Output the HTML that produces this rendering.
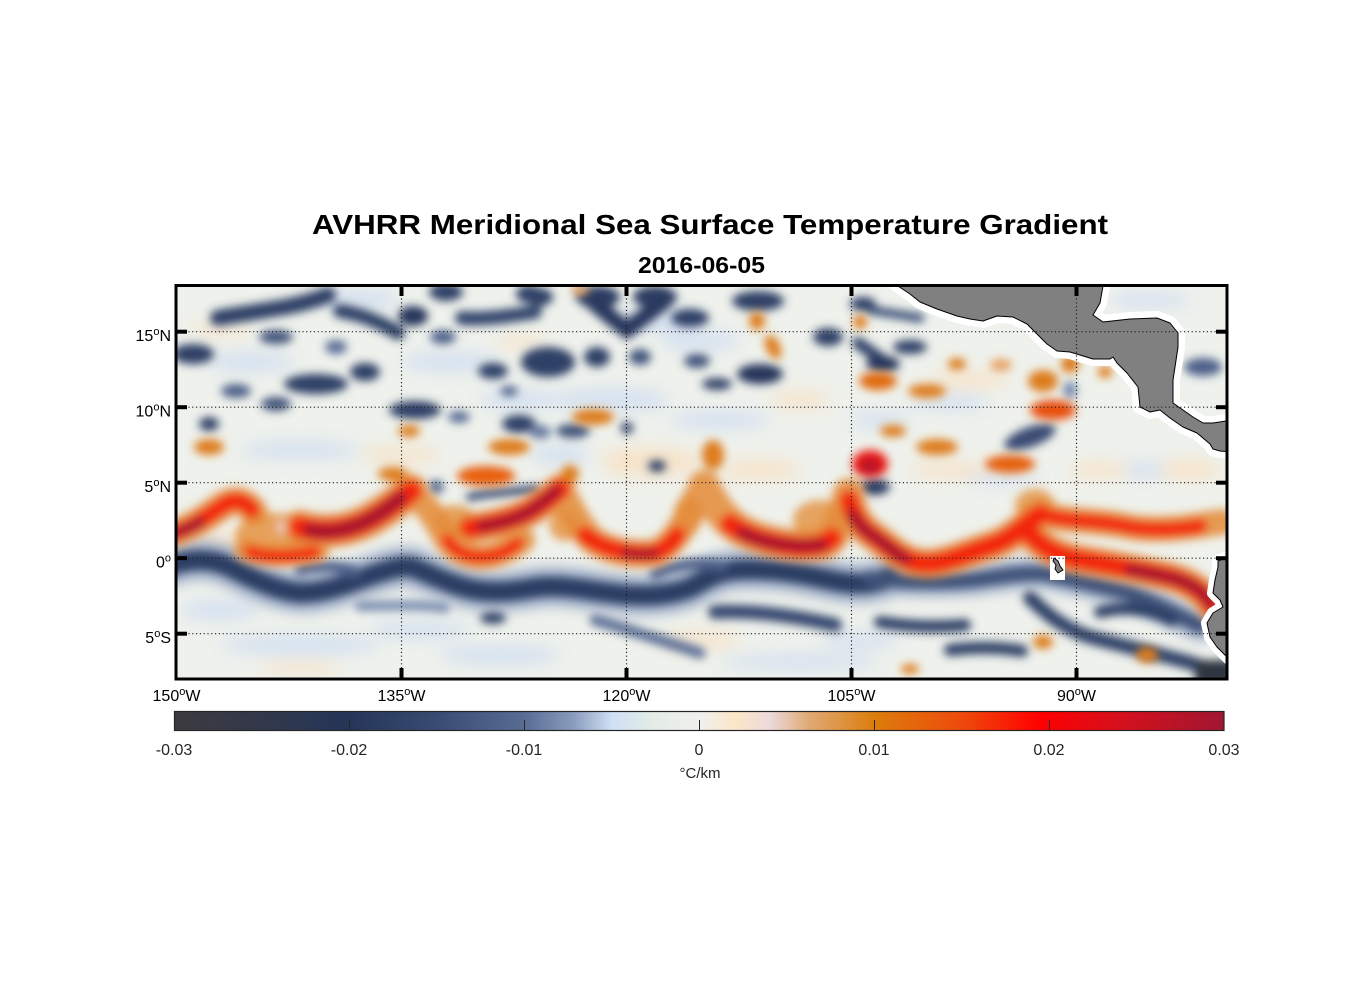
<!DOCTYPE html>
<html><head><meta charset="utf-8"><style>
html,body{margin:0;padding:0;background:#fff;}
svg{display:block;}
text{font-family:"Liberation Sans",Arial,sans-serif;}
</style></head><body>
<svg width="1356" height="1000" viewBox="0 0 1356 1000" xmlns="http://www.w3.org/2000/svg">
<defs>
<clipPath id="mc"><rect x="177" y="287" width="1049" height="391"/></clipPath>
<filter id="b6" filterUnits="userSpaceOnUse" x="0" y="0" width="1356" height="1000"><feGaussianBlur stdDeviation="8"/></filter>
<filter id="b4" filterUnits="userSpaceOnUse" x="0" y="0" width="1356" height="1000"><feGaussianBlur stdDeviation="6"/></filter>
<filter id="b3" filterUnits="userSpaceOnUse" x="0" y="0" width="1356" height="1000"><feGaussianBlur stdDeviation="4.5"/></filter>
<filter id="b2" filterUnits="userSpaceOnUse" x="0" y="0" width="1356" height="1000"><feGaussianBlur stdDeviation="3"/></filter>
<linearGradient id="cb" x1="0" y1="0" x2="1" y2="0">
<stop offset="0" stop-color="#3b3b3f"/>
<stop offset="0.08" stop-color="#33384a"/>
<stop offset="0.167" stop-color="#253659"/>
<stop offset="0.25" stop-color="#3a4b72"/>
<stop offset="0.333" stop-color="#586c94"/>
<stop offset="0.38" stop-color="#8a9cbd"/>
<stop offset="0.417" stop-color="#cfe0f6"/>
<stop offset="0.456" stop-color="#e3ece4"/>
<stop offset="0.5" stop-color="#f0f0ee"/>
<stop offset="0.535" stop-color="#fce6c6"/>
<stop offset="0.567" stop-color="#ecdadc"/>
<stop offset="0.604" stop-color="#e0aa76"/>
<stop offset="0.667" stop-color="#dc7d0c"/>
<stop offset="0.75" stop-color="#ee4a0c"/>
<stop offset="0.825" stop-color="#ff0000"/>
<stop offset="0.9" stop-color="#d6101c"/>
<stop offset="1" stop-color="#a01632"/>
</linearGradient>
</defs>

<!-- Titles -->
<text x="312" y="234" font-size="28" font-weight="bold" fill="#000" textLength="796" lengthAdjust="spacingAndGlyphs">AVHRR Meridional Sea Surface Temperature Gradient</text>
<text x="638" y="273" font-size="23" font-weight="bold" fill="#000" textLength="127" lengthAdjust="spacingAndGlyphs">2016-06-05</text>

<g clip-path="url(#mc)">
<rect x="170" y="280" width="1065" height="405" fill="#eef1ec"/>

<!-- faint texture -->
<g filter="url(#b6)" opacity="0.9">
<g fill="#d3e0f1">
<ellipse cx="250" cy="362" rx="45" ry="10"/>
<ellipse cx="450" cy="362" rx="50" ry="10"/>
<ellipse cx="700" cy="340" rx="40" ry="10"/>
<ellipse cx="610" cy="400" rx="60" ry="12"/>
<ellipse cx="950" cy="402" rx="40" ry="8"/>
<ellipse cx="300" cy="450" rx="60" ry="9"/>
<ellipse cx="720" cy="420" rx="50" ry="9"/>
<ellipse cx="1000" cy="478" rx="40" ry="6"/>
<ellipse cx="300" cy="645" rx="80" ry="10"/>
<ellipse cx="500" cy="655" rx="60" ry="10"/>
<ellipse cx="800" cy="662" rx="80" ry="8"/>
<ellipse cx="860" cy="640" rx="40" ry="8"/>
<ellipse cx="420" cy="630" rx="50" ry="9"/>
<ellipse cx="220" cy="610" rx="40" ry="10"/>
<ellipse cx="1150" cy="470" rx="40" ry="8"/>
<ellipse cx="1150" cy="300" rx="40" ry="8"/>
<ellipse cx="880" cy="420" rx="30" ry="8"/>
<ellipse cx="560" cy="455" rx="30" ry="10"/>
<ellipse cx="660" cy="320" rx="40" ry="12"/>
<ellipse cx="360" cy="300" rx="40" ry="10"/>
<ellipse cx="520" cy="400" rx="40" ry="10"/>
</g>
<g fill="#f8e2c6">
<ellipse cx="220" cy="330" rx="30" ry="6"/>
<ellipse cx="520" cy="342" rx="25" ry="6"/>
<ellipse cx="650" cy="462" rx="50" ry="15"/>
<ellipse cx="760" cy="470" rx="40" ry="10"/>
<ellipse cx="950" cy="470" rx="40" ry="8"/>
<ellipse cx="400" cy="455" rx="40" ry="8"/>
<ellipse cx="700" cy="640" rx="40" ry="8"/>
<ellipse cx="300" cy="668" rx="40" ry="6"/>
<ellipse cx="1100" cy="470" rx="30" ry="8"/>
<ellipse cx="970" cy="380" rx="40" ry="8"/>
<ellipse cx="1160" cy="400" rx="15" ry="10"/>
<ellipse cx="800" cy="400" rx="30" ry="8"/>
<ellipse cx="1190" cy="470" rx="30" ry="10"/>
<ellipse cx="240" cy="545" rx="50" ry="10"/>
</g>
</g>

<!-- blues -->
<g filter="url(#b4)">
<g fill="none" stroke="#8fa1c2" stroke-linecap="round" opacity="0.75">
<path d="M170,566 C190,558 212,558 232,568 C255,580 280,592 302,593 C325,593 350,583 372,575 C390,569 402,565 412,567 C430,574 450,585 475,590 C500,594 520,590 540,587 C565,585 585,590 610,593 C640,597 665,597 690,588 C705,580 715,572 735,570 C765,568 795,572 825,579 C850,585 870,586 890,577" stroke-width="40"/>
<path d="M870,578 C900,582 940,583 975,580 C1005,576 1025,572 1045,574 C1075,580 1100,586 1125,592 C1150,600 1170,612 1200,626" stroke-width="30"/>
</g>
</g>
<g filter="url(#b3)">
<g fill="none" stroke-linecap="round">
<path d="M170,566 C190,558 212,558 232,568 C255,580 280,592 302,593 C325,593 350,583 372,575 C390,569 402,565 412,567 C430,574 450,585 475,590 C500,594 520,590 540,587 C565,585 585,590 610,593 C640,597 665,597 690,588 C705,580 715,572 735,570 C765,568 795,572 825,579 C850,585 870,586 890,577" stroke="#2c3d63" stroke-width="20"/>
<path d="M300,570 C320,565 340,566 355,572" stroke="#4d6089" stroke-width="11"/>
<path d="M655,574 C675,564 700,562 722,566" stroke="#4d6089" stroke-width="11"/>
<path d="M715,612 C750,610 790,615 835,625" stroke="#34466e" stroke-width="14"/>
<path d="M595,620 C625,628 660,640 700,653" stroke="#5a6d94" stroke-width="11"/>
<path d="M360,606 C390,606 420,604 445,608" stroke="#7a8db0" stroke-width="10"/>
<path d="M870,578 C900,582 940,583 975,580 C1005,576 1025,572 1045,574 C1075,580 1100,586 1125,592 C1150,600 1170,612 1200,626" stroke="#405379" stroke-width="15"/>
<path d="M1030,598 C1045,612 1062,628 1090,637 C1120,645 1150,652 1180,660 C1200,665 1215,672 1232,680" stroke="#2f4066" stroke-width="14"/>
<path d="M880,622 C905,626 935,628 965,625" stroke="#2c3d63" stroke-width="12"/>
<path d="M950,650 C975,647 1000,647 1022,651" stroke="#2c3d63" stroke-width="12"/>
<path d="M1100,612 C1120,607 1145,606 1172,620" stroke="#2c3d63" stroke-width="12"/>
<path d="M470,497 C490,492 515,492 536,489" stroke="#34466e" stroke-width="8"/>
<path d="M218,318 C240,314 270,310 290,306 C305,303 315,300 328,295" stroke="#2e3f66" stroke-width="16"/>
<path d="M340,311 C360,314 380,322 398,333" stroke="#2e3f66" stroke-width="14"/>
<path d="M462,318 C480,320 510,316 535,312" stroke="#33456c" stroke-width="14"/>
<path d="M588,298 C600,308 614,320 627,330 C640,320 652,310 664,302" stroke="#26365b" stroke-width="16"/>
<path d="M858,343 L885,362" stroke="#2e3f66" stroke-width="12"/>
<path d="M870,310 L920,318" stroke="#3f5279" stroke-width="9"/>
</g>
<g fill="#2e3f66">
<ellipse cx="598" cy="297" rx="22" ry="11" fill="#2a3a60"/>
<ellipse cx="655" cy="297" rx="22" ry="11" fill="#2a3a60"/>
<ellipse cx="413" cy="316" rx="15" ry="10" fill="#27365a"/>
<ellipse cx="446" cy="292" rx="17" ry="9"/>
<ellipse cx="529" cy="294" rx="13" ry="9"/>
<ellipse cx="193" cy="354" rx="21" ry="10"/>
<ellipse cx="276" cy="337" rx="17" ry="7" fill="#3f5279"/>
<ellipse cx="336" cy="347" rx="11" ry="7" fill="#5a6d94"/>
<ellipse cx="365" cy="372" rx="15" ry="9"/>
<ellipse cx="316" cy="384" rx="32" ry="10"/>
<ellipse cx="236" cy="391" rx="15" ry="7" fill="#4d6089"/>
<ellipse cx="276" cy="404" rx="15" ry="7" fill="#3f5279"/>
<ellipse cx="415" cy="410" rx="26" ry="9"/>
<ellipse cx="209" cy="424" rx="10" ry="7"/>
<ellipse cx="519" cy="424" rx="17" ry="9"/>
<ellipse cx="493" cy="371" rx="15" ry="8"/>
<ellipse cx="443" cy="337" rx="13" ry="7" fill="#4d6089"/>
<ellipse cx="509" cy="391" rx="9" ry="5" fill="#4d6089"/>
<ellipse cx="459" cy="417" rx="11" ry="6" fill="#5a6d94"/>
<ellipse cx="540" cy="297" rx="13" ry="9"/>
<ellipse cx="690" cy="318" rx="19" ry="9"/>
<ellipse cx="758" cy="301" rx="26" ry="10"/>
<ellipse cx="548" cy="362" rx="27" ry="15"/>
<ellipse cx="597" cy="357" rx="13" ry="10"/>
<ellipse cx="640" cy="357" rx="11" ry="8" fill="#3f5279"/>
<ellipse cx="697" cy="361" rx="13" ry="7" fill="#3f5279"/>
<ellipse cx="760" cy="374" rx="23" ry="10" fill="#26365b"/>
<ellipse cx="717" cy="384" rx="15" ry="6"/>
<ellipse cx="828" cy="337" rx="15" ry="9"/>
<ellipse cx="863" cy="304" rx="13" ry="7"/>
<ellipse cx="573" cy="431" rx="17" ry="7" fill="#3f5279"/>
<ellipse cx="540" cy="432" rx="11" ry="7" fill="#6a7da2"/>
<ellipse cx="657" cy="466" rx="9" ry="6"/>
<ellipse cx="627" cy="428" rx="6" ry="6"/>
<ellipse cx="910" cy="347" rx="17" ry="7"/>
<ellipse cx="883" cy="364" rx="17" ry="8" fill="#26365b"/>
<ellipse cx="1030" cy="437" rx="27" ry="10" transform="rotate(-20 1030 437)" fill="#3a4c73"/>
<ellipse cx="1203" cy="367" rx="19" ry="9" fill="#4d6089"/>
<ellipse cx="1070" cy="390" rx="7" ry="9" fill="#7a8db0"/>
<ellipse cx="875" cy="487" rx="15" ry="8" fill="#2a3a60"/>
<ellipse cx="493" cy="618" rx="13" ry="6"/>
<ellipse cx="436" cy="487" rx="8" ry="7" fill="#5a6d94"/>
<rect x="1195" y="660" width="40" height="25" fill="#2e3440"/>
</g>
</g>

<!-- oranges / reds -->
<g filter="url(#b3)">
<g fill="#e38a33" opacity="0.75">
<ellipse cx="275" cy="535" rx="40" ry="22"/>
<ellipse cx="455" cy="522" rx="22" ry="17"/>
<ellipse cx="820" cy="520" rx="27" ry="20"/>
<ellipse cx="1035" cy="505" rx="20" ry="16"/>
<ellipse cx="688" cy="515" rx="14" ry="20"/>
<ellipse cx="565" cy="525" rx="16" ry="16"/>
</g>
<ellipse cx="290" cy="527" rx="11" ry="8" fill="#f4eee6"/>
<g fill="none" stroke-linecap="round">
<g stroke="#e48a38" opacity="0.85">
<path d="M170,534 C188,530 205,518 222,506 C234,498 244,500 254,512" stroke-width="28"/>
<path d="M245,550 C262,557 290,558 318,551" stroke-width="22"/>
<path d="M300,527 C322,534 345,531 365,522 C383,513 398,501 411,491" stroke-width="34"/>
<path d="M411,491 C424,503 436,518 444,535 C452,550 465,557 482,557 C498,556 512,548 522,540" stroke-width="26"/>
<path d="M470,528 C492,525 515,520 532,510 C545,502 553,495 560,489" stroke-width="30"/>
<path d="M560,489 C568,505 578,525 592,540 C608,551 630,556 655,553 C670,547 682,530 692,508 C697,497 701,490 704,486" stroke-width="28"/>
<path d="M704,486 C712,503 722,518 740,530 C760,541 790,548 822,545 C836,538 843,518 849,494" stroke-width="32"/>
<path d="M849,494 C852,512 858,526 872,535 C887,545 900,560 920,563 C942,566 966,553 990,546 C1010,540 1022,527 1040,514" stroke-width="30"/>
<path d="M1040,514 C1068,522 1100,520 1130,527 C1160,532 1190,527 1222,522" stroke-width="26"/>
<path d="M1025,530 C1040,545 1055,556 1082,560 C1112,565 1140,570 1170,577 C1192,583 1206,594 1212,606" stroke-width="30"/>
</g>
<g stroke="#f2280c">
<path d="M170,534 C188,530 205,518 222,506 C234,498 244,500 252,510" stroke-width="16"/>
<path d="M250,552 C265,557 290,558 315,552" stroke-width="12"/>
<path d="M300,527 C322,534 345,531 365,522 C383,513 398,501 411,491" stroke-width="22"/>
<path d="M447,540 C455,552 468,557 482,557 C498,556 510,550 518,543" stroke-width="12"/>
<path d="M470,528 C492,525 515,520 532,510 C545,502 553,495 560,489" stroke-width="20"/>
<path d="M585,535 C600,548 630,556 655,553 C665,549 672,543 677,535" stroke-width="17"/>
<path d="M730,524 C745,535 770,544 800,547 C815,547 825,545 832,538" stroke-width="20"/>
<path d="M849,500 C852,512 858,526 872,535 C887,545 900,560 920,563 C942,566 966,553 990,546 C1010,540 1022,527 1040,514" stroke-width="19"/>
<path d="M1045,515 C1068,522 1100,520 1130,527 C1160,532 1185,528 1200,526" stroke-width="14"/>
<path d="M1030,534 C1040,545 1055,556 1082,560 C1112,565 1140,570 1170,577 C1192,583 1206,594 1212,606" stroke-width="19"/>
</g>
<g stroke="#a8152e">
<path d="M170,534 C182,531 192,527 200,522" stroke-width="11"/>
<path d="M310,530 C325,534 345,531 365,522 C380,514 392,505 400,498" stroke-width="14"/>
<path d="M482,526 C498,524 515,520 530,511 C542,503 550,496 556,491" stroke-width="12"/>
<path d="M625,553 C635,555 645,555 655,553" stroke-width="9"/>
<path d="M742,533 C760,542 790,548 822,545" stroke-width="12"/>
<path d="M853,515 C858,526 865,530 872,535 C885,544 895,553 905,559" stroke-width="12"/>
<path d="M1130,570 C1150,573 1170,577 1185,582 C1198,588 1206,596 1210,603" stroke-width="12"/>
</g>
</g>
<g fill="#dd7d1e">
<ellipse cx="209" cy="447" rx="15" ry="8"/>
<ellipse cx="409" cy="431" rx="11" ry="6"/>
<ellipse cx="393" cy="474" rx="15" ry="7"/>
<ellipse cx="486" cy="476" rx="29" ry="10" fill="#e8600f"/>
<ellipse cx="509" cy="447" rx="21" ry="8"/>
<ellipse cx="593" cy="417" rx="21" ry="8"/>
<ellipse cx="757" cy="321" rx="8" ry="9"/>
<ellipse cx="773" cy="347" rx="7" ry="13" transform="rotate(-25 773 347)"/>
<ellipse cx="878" cy="381" rx="19" ry="9" fill="#e06a0e"/>
<ellipse cx="1043" cy="381" rx="15" ry="11"/>
<ellipse cx="1053" cy="410" rx="23" ry="10" fill="#e8500c"/>
<ellipse cx="1070" cy="364" rx="9" ry="9"/>
<ellipse cx="927" cy="391" rx="19" ry="7"/>
<ellipse cx="937" cy="447" rx="21" ry="8"/>
<ellipse cx="893" cy="431" rx="13" ry="6"/>
<ellipse cx="1010" cy="464" rx="25" ry="9" fill="#e6600f"/>
<ellipse cx="957" cy="364" rx="9" ry="6"/>
<ellipse cx="713" cy="455" rx="11" ry="15"/>
<ellipse cx="570" cy="474" rx="9" ry="9"/>
<ellipse cx="1105" cy="372" rx="7" ry="6"/>
<ellipse cx="1147" cy="655" rx="11" ry="8"/>
<ellipse cx="910" cy="669" rx="9" ry="5"/>
<ellipse cx="1043" cy="642" rx="10" ry="7"/>
<ellipse cx="860" cy="322" rx="7" ry="7"/>
<ellipse cx="580" cy="290" rx="9" ry="5" fill="#e5a060"/>
<ellipse cx="1001" cy="365" rx="11" ry="6" fill="#e5a060"/>
</g>
<ellipse cx="870" cy="464" rx="18" ry="14" fill="#ec1a10"/>
<ellipse cx="870" cy="466" rx="10" ry="8" fill="#b8152a"/>
</g>

<!-- land -->
<g stroke-linejoin="round">
<path d="M892,280 L898,286 L910,294 L920,302 L937,309 L957,316 L970,319 L983,321 L997,316 L1013,317 L1027,324 L1037,334 L1047,344 L1057,351 L1070,352 L1080,355 L1093,359 L1110,359 L1113,357 L1117,363 L1127,373 L1138,387 L1140,407 L1150,412 L1160,410 L1170,418 L1183,427 L1197,433 L1210,444 L1213,449 L1220,451 L1232,452 L1232,420 L1213,423 L1203,423 L1193,417 L1183,410 L1173,403 L1173,380 L1175,367 L1178,347 L1178,333 L1170,323 L1157,318 L1130,319 L1103,322 L1093,315 L1100,303 L1103,286 L1103,280 Z" fill="#ffffff" stroke="#ffffff" stroke-width="14"/>
<path d="M1232,555 L1218,561 L1218,567 L1215,580 L1213,593 L1220,600 L1223,607 L1213,613 L1207,623 L1210,637 L1217,647 L1223,653 L1232,662 Z" fill="#fff" stroke="#fff" stroke-width="12"/>
<rect x="1050" y="556" width="15" height="24" fill="#fff"/>
<path d="M892,280 L898,286 L910,294 L920,302 L937,309 L957,316 L970,319 L983,321 L997,316 L1013,317 L1027,324 L1037,334 L1047,344 L1057,351 L1070,352 L1080,355 L1093,359 L1110,359 L1113,357 L1117,363 L1127,373 L1138,387 L1140,407 L1150,412 L1160,410 L1170,418 L1183,427 L1197,433 L1210,444 L1213,449 L1220,451 L1232,452 L1232,420 L1213,423 L1203,423 L1193,417 L1183,410 L1173,403 L1173,380 L1175,367 L1178,347 L1178,333 L1170,323 L1157,318 L1130,319 L1103,322 L1093,315 L1100,303 L1103,286 L1103,280 Z" fill="#808080" stroke="#000" stroke-width="1"/>
<path d="M1232,555 L1218,561 L1218,567 L1215,580 L1213,593 L1220,600 L1223,607 L1213,613 L1207,623 L1210,637 L1217,647 L1223,653 L1232,662 Z" fill="#808080" stroke="#000" stroke-width="1"/>
<path d="M1054,558 L1058,561 L1060,566 L1063,570 L1058,573 L1055,569 L1056,565 L1053,561 Z" fill="#808080" stroke="#000" stroke-width="1"/>
</g>
</g>

<!-- gridlines -->
<g stroke="#222" stroke-width="1.2" stroke-dasharray="1.2 2.6" fill="none">
<line x1="177" y1="331.7" x2="1226" y2="331.7"/>
<line x1="177" y1="407.2" x2="1226" y2="407.2"/>
<line x1="177" y1="482.7" x2="1226" y2="482.7"/>
<line x1="177" y1="558.2" x2="1226" y2="558.2"/>
<line x1="177" y1="633.7" x2="1226" y2="633.7"/>
<line x1="401.5" y1="287" x2="401.5" y2="678"/>
<line x1="626.5" y1="287" x2="626.5" y2="678"/>
<line x1="851.5" y1="287" x2="851.5" y2="678"/>
<line x1="1076.5" y1="287" x2="1076.5" y2="678"/>
</g>

<!-- frame -->
<rect x="176" y="285.5" width="1051" height="393.5" fill="none" stroke="#000" stroke-width="3"/>
<g stroke="#000" stroke-width="4">
<line x1="175" y1="331.7" x2="187" y2="331.7"/>
<line x1="175" y1="407.2" x2="187" y2="407.2"/>
<line x1="175" y1="482.7" x2="187" y2="482.7"/>
<line x1="175" y1="558.2" x2="187" y2="558.2"/>
<line x1="175" y1="633.7" x2="187" y2="633.7"/>
<line x1="1228" y1="331.7" x2="1216" y2="331.7"/>
<line x1="1228" y1="407.2" x2="1216" y2="407.2"/>
<line x1="1228" y1="482.7" x2="1216" y2="482.7"/>
<line x1="1228" y1="558.2" x2="1216" y2="558.2"/>
<line x1="1228" y1="633.7" x2="1216" y2="633.7"/>
<line x1="401.5" y1="284" x2="401.5" y2="296"/>
<line x1="626.5" y1="284" x2="626.5" y2="296"/>
<line x1="851.5" y1="284" x2="851.5" y2="296"/>
<line x1="1076.5" y1="284" x2="1076.5" y2="296"/>
<line x1="401.5" y1="680" x2="401.5" y2="668"/>
<line x1="626.5" y1="680" x2="626.5" y2="668"/>
<line x1="851.5" y1="680" x2="851.5" y2="668"/>
<line x1="1076.5" y1="680" x2="1076.5" y2="668"/>
</g>

<!-- axis labels -->
<g font-size="16" fill="#000" text-anchor="end">
<text x="171" y="341">15<tspan font-size="11" dy="-6">o</tspan><tspan dy="6">N</tspan></text>
<text x="171" y="416.5">10<tspan font-size="11" dy="-6">o</tspan><tspan dy="6">N</tspan></text>
<text x="171" y="492">5<tspan font-size="11" dy="-6">o</tspan><tspan dy="6">N</tspan></text>
<text x="171" y="567.5">0<tspan font-size="11" dy="-6">o</tspan></text>
<text x="171" y="643">5<tspan font-size="11" dy="-6">o</tspan><tspan dy="6">S</tspan></text>
</g>
<g font-size="16" fill="#000" text-anchor="middle">
<text x="176.5" y="701">150<tspan font-size="11" dy="-6">o</tspan><tspan dy="6">W</tspan></text>
<text x="401.5" y="701">135<tspan font-size="11" dy="-6">o</tspan><tspan dy="6">W</tspan></text>
<text x="626.5" y="701">120<tspan font-size="11" dy="-6">o</tspan><tspan dy="6">W</tspan></text>
<text x="851.5" y="701">105<tspan font-size="11" dy="-6">o</tspan><tspan dy="6">W</tspan></text>
<text x="1076.5" y="701">90<tspan font-size="11" dy="-6">o</tspan><tspan dy="6">W</tspan></text>
</g>

<!-- colorbar -->
<rect x="174.5" y="711.5" width="1049.5" height="19" fill="url(#cb)" stroke="#262626" stroke-width="1.2"/>
<g stroke="#262626" stroke-width="1">
<line x1="349.5" y1="720" x2="349.5" y2="730"/>
<line x1="524.5" y1="720" x2="524.5" y2="730"/>
<line x1="699.5" y1="720" x2="699.5" y2="730"/>
<line x1="874.5" y1="720" x2="874.5" y2="730"/>
<line x1="1049.5" y1="720" x2="1049.5" y2="730"/>
</g>
<g font-size="16" fill="#262626" text-anchor="middle">
<text x="174" y="755">-0.03</text>
<text x="349" y="755">-0.02</text>
<text x="524" y="755">-0.01</text>
<text x="699" y="755">0</text>
<text x="874" y="755">0.01</text>
<text x="1049" y="755">0.02</text>
<text x="1224" y="755">0.03</text>
<text x="700" y="778" font-size="15">°C/km</text>
</g>
</svg>
</body></html>
